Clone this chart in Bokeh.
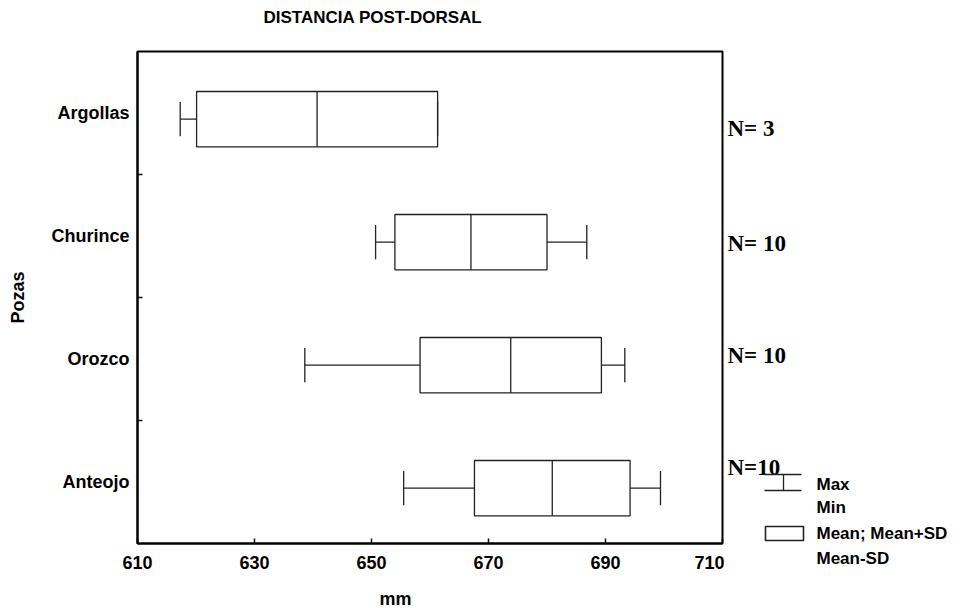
from bokeh.plotting import figure
from bokeh.models import Range1d, FixedTicker
from bokeh.layouts import row, column
from bokeh.core.properties import value
from bokeh.embed import file_html
from bokeh.resources import INLINE

# ---- data ----
pozas = ["Argollas", "Churince", "Orozco", "Anteojo"]
mean = [640.7, 667.0, 673.8, 680.9]
sd = [20.6, 13.0, 15.5, 13.3]
vmin = [617.3, 650.7, 638.6, 655.5]
vmax = [661.3, 686.8, 693.3, 699.4]
n_text = ["N= 3", "N= 10", "N= 10", "N=10"]
x_ticks = [610, 630, 650, 670, 690, 710]

# ---- layout constants (pixels) ----
W, H = 967, 608
F_LEFT, F_TOP, F_RIGHT, F_BOTTOM = 137, 51, 722, 543
MAIN_W = F_RIGHT + 2
TOP_H = F_TOP - 2
MAIN_BOTTOM_BORDER = 40
MAIN_H = 2 + (F_BOTTOM - F_TOP) + MAIN_BOTTOM_BORDER
BOT_H = H - TOP_H - MAIN_H

# ---- derived ----
pos = list(range(1, len(pozas) + 1))
shift = 0.05             # scanned boxes sit slightly below their labels
half_h = 0.225           # half box height (category units)
cap_h = 0.14             # half cap height
yc = [p_ + shift for p_ in pos]
lo = [m - s for m, s in zip(mean, sd)]
hi = [m + s for m, s in zip(mean, sd)]

FONT = "Liberation Sans"
LC = "#222222"
LW = 1.3


def strip(w, h):
    f = figure(width=w, height=h, output_backend="svg", toolbar_location=None,
               x_range=Range1d(0, w), y_range=Range1d(h, 0), title=None,
               min_border=0, min_border_left=0, min_border_right=0,
               min_border_top=0, min_border_bottom=0)
    f.frame_align = False
    f.axis.visible = False
    f.grid.visible = False
    f.outline_line_color = None
    return f


# ---- main plot ----
p = figure(width=MAIN_W, height=MAIN_H, output_backend="svg", toolbar_location=None,
           x_range=Range1d(610, 710), y_range=Range1d(4.5, 0.5), title=None,
           min_border_left=F_LEFT, min_border_right=MAIN_W - F_RIGHT,
           min_border_top=2, min_border_bottom=MAIN_BOTTOM_BORDER)
p.frame_align = False
p.grid.visible = False
p.outline_line_color = "black"
p.outline_line_width = 2

# x axis
xa = p.xaxis[0]
xa.ticker = FixedTicker(ticks=x_ticks)
xa.major_tick_in = 5
xa.major_tick_out = 0
xa.minor_tick_line_color = None
xa.axis_line_width = 2
xa.major_tick_line_width = 1.5
xa.major_label_standoff = 12
xa.major_label_text_font = FONT
xa.major_label_text_font_style = "bold"
xa.major_label_text_font_size = "18px"
xa.major_label_text_color = "black"

# y axis
ya = p.yaxis[0]
ya.ticker = FixedTicker(ticks=pos, minor_ticks=[p_ + 0.5 for p_ in pos[:-1]])
ya.major_label_overrides = {k: name for k, name in zip(pos, pozas)}
ya.major_tick_line_color = None
ya.major_tick_in = 0
ya.major_tick_out = 0
ya.minor_tick_in = 5
ya.minor_tick_out = 0
ya.minor_tick_line_width = 1.5
ya.axis_line_width = 2
ya.major_label_standoff = 8
ya.major_label_text_font = FONT
ya.major_label_text_font_style = "bold"
ya.major_label_text_font_size = "18px"
ya.major_label_text_color = "black"
ya.axis_label = "Pozas"
ya.axis_label_text_font = FONT
ya.axis_label_text_font_style = "bold"
ya.axis_label_text_font_size = "18px"
ya.axis_label_text_color = "black"
ya.axis_label_standoff = 20

# boxes (Mean +/- SD)
p.quad(left=lo, right=hi, top=[y - half_h for y in yc], bottom=[y + half_h for y in yc],
       fill_color="white", line_color=LC, line_width=LW)
# mean lines
p.segment(x0=mean, y0=[y - half_h for y in yc], x1=mean, y1=[y + half_h for y in yc],
          line_color=LC, line_width=LW)
# whiskers
p.segment(x0=lo, y0=yc, x1=vmin, y1=yc, line_color=LC, line_width=LW)
p.segment(x0=hi, y0=yc, x1=vmax, y1=yc, line_color=LC, line_width=LW)
# caps
p.segment(x0=vmin, y0=[y - cap_h for y in yc], x1=vmin, y1=[y + cap_h for y in yc],
          line_color=LC, line_width=LW)
p.segment(x0=vmax, y0=[y - cap_h for y in yc], x1=vmax, y1=[y + cap_h for y in yc],
          line_color=LC, line_width=LW)

# ---- title strip ----
t = strip(MAIN_W, TOP_H)
t.text(x=[263], y=[17], text=["DISTANCIA POST-DORSAL"], text_font=value(FONT),
       text_font_style="bold", text_font_size="17px", text_baseline="middle",
       text_color="black")

# ---- x-title strip ----
b = strip(MAIN_W, BOT_H)
b.text(x=[395], y=[598 - (H - BOT_H)], text=["mm"], text_font=value(FONT),
       text_font_style="bold", text_font_size="18px", text_align="center",
       text_baseline="middle", text_color="black")

# ---- right-hand panel: N labels and legend (pixel coordinates, y downwards) ----
SIDE_W = W - MAIN_W
q = strip(SIDE_W, H)


def cat_to_px(v):
    return F_TOP + (v - 0.5) * (F_BOTTOM - F_TOP) / len(pozas)


n_dy = [15.5, 7.5, -3.5, -14.5]
q.text(x=[3] * len(n_text), y=[cat_to_px(v) + d for v, d in zip(pos, n_dy)], text=n_text,
       text_font=value("Liberation Serif"), text_font_style="bold",
       text_font_size="23px", text_baseline="middle", text_color="black")

# legend symbols
q.segment(x0=[40, 59, 40], y0=[474, 474, 490], x1=[77, 59, 77], y1=[474, 490, 490],
          line_color=LC, line_width=LW)
q.quad(left=[41], right=[79], top=[526], bottom=[540], fill_color="white",
       line_color=LC, line_width=1.6)
q.text(x=[92] * 4, y=[484, 507, 533, 558], text=["Max", "Min", "Mean; Mean+SD", "Mean-SD"],
       text_font=value(FONT), text_font_style="bold", text_font_size="17px",
       text_baseline="middle", text_color="black")

layout = row(column(t, p, b, spacing=0), q, spacing=0)
open("out.html", "w").write(file_html(layout, INLINE))
